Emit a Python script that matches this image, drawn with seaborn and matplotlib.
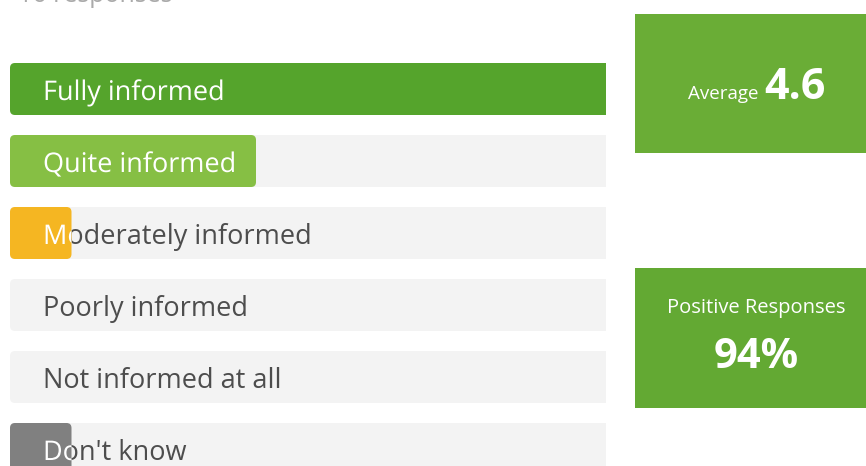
import matplotlib
matplotlib.use("Agg")
import matplotlib.pyplot as plt
import matplotlib.patheffects as pe
import seaborn as sns
import pandas as pd
from matplotlib.patches import FancyBboxPatch, Rectangle
from matplotlib.transforms import ScaledTranslation

# ---- data ----
categories = ["Fully informed", "Quite informed", "Moderately informed",
              "Poorly informed", "Not informed at all", "Don't know"]
counts = [10, 4, 1, 0, 0, 1]
bar_colors = ["#55a42c", "#86bf44", "#f5b622", "#9e9e9e", "#9e9e9e", "#808080"]
responses_label = "16 responses"
average_value = "4.6"
positive_value = "94%"

track_value = [max(counts)] * len(categories)

sns.set_theme(style="white")
plt.rcParams["font.family"] = ["Open Sans", "DejaVu Sans"]

W, H = 866, 466
fig = plt.figure(figsize=(W / 100, H / 100), dpi=100)
ax = fig.add_axes([0, 0, 606 / W, 1])

df = pd.DataFrame({"cat": categories, "n": counts, "track": track_value})
bw = 52 / 72
sns.barplot(data=df, x="track", y="cat", color="#f3f3f3", width=bw, ax=ax,
            orient="h", saturation=1)
sns.barplot(data=df, x="n", y="cat", hue="cat", palette=bar_colors, width=bw,
            ax=ax, orient="h", legend=False, saturation=1)

unit_px = 61.5
ax.set_xlim(-10 / unit_px, (606 - 10) / unit_px)
ax.set_ylim((466 - 89) / 72, -89 / 72)
ax.axis("off")

# rounded corners
r_px = 5
rx = r_px / unit_px
asp = (r_px / 72) / rx
rows = {}
for p in list(ax.patches):
    if not isinstance(p, Rectangle):
        continue
    x, y = p.get_xy()
    w, h = p.get_width(), p.get_height()
    fc = p.get_facecolor()
    p.remove()
    if w <= 0:
        continue
    is_track = fc[0] > 0.94 and fc[1] > 0.94
    fb = FancyBboxPatch((x, y), w, h,
                        boxstyle=f"round,pad=0,rounding_size={rx}",
                        mutation_aspect=asp, fc=fc, ec="none",
                        zorder=1 if is_track else 3)
    ax.add_patch(fb)
    if not is_track:
        rows[int(round(y + h / 2))] = fb

LFS = 19.5
off = ScaledTranslation(33 / 100, -11 / 100, fig.dpi_scale_trans)
for i, lab in enumerate(categories):
    ax.text(0, i, lab, color="#4d4d4d", fontsize=LFS, va="baseline",
            ha="left", transform=ax.transData + off, zorder=2)
    if i in rows:
        t = ax.text(0, i, lab, color="white", fontsize=LFS, va="baseline",
                    ha="left", transform=ax.transData + off, clip_on=True,
                    path_effects=[pe.Normal()], zorder=4)
        t.set_clip_path(rows[i])

fig.text(18 / W, 1 - 2 / H, responses_label, color="#aaaaaa", fontsize=18,
         ha="left", va="baseline")

# stat boxes
fig.patches.append(Rectangle((635 / W, 1 - 153 / H), 260 / W, 139 / H,
                             transform=fig.transFigure, fc="#6aad36", ec="none"))
fig.patches.append(Rectangle((635 / W, 1 - 408 / H), 260 / W, 140 / H,
                             transform=fig.transFigure, fc="#63a933", ec="none"))

fig.text(759 / W, 1 - 99 / H, "Average", color="white", fontsize=13.5,
         ha="right", va="baseline")
fig.text(764 / W, 1 - 99 / H, average_value, color="white", fontsize=31,
         fontweight="bold", ha="left", va="baseline")
fig.text(756 / W, 1 - 313 / H, "Positive Responses", color="white",
         fontsize=14.5, ha="center", va="baseline")
fig.text(756 / W, 1 - 368 / H, positive_value, color="white", fontsize=30,
         fontweight="bold", ha="center", va="baseline")

fig.savefig("out.png", dpi=100)
